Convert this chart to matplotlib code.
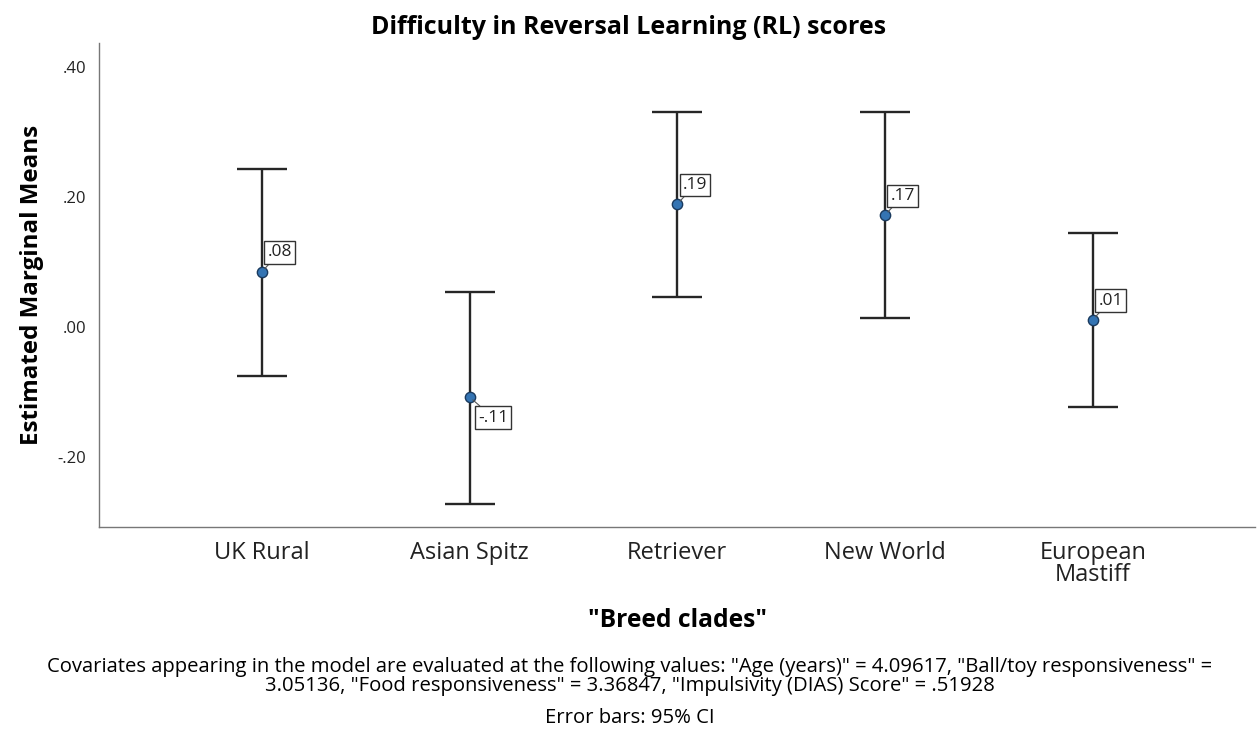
import matplotlib.pyplot as plt
import numpy as np

# estimated marginal means with 95% CI
clades = ["UK Rural", "Asian Spitz", "Retriever", "New World", "European\nMastiff"]
means = [0.085, -0.108, 0.189, 0.172, 0.011]
lower = [-0.075, -0.272, 0.046, 0.014, -0.123]
upper = [0.243, 0.054, 0.331, 0.331, 0.145]
point_labels = [".08", "-.11", ".19", ".17", ".01"]
yticks = [-0.20, 0.00, 0.20, 0.40]
ytick_labels = ["-.20", ".00", ".20", ".40"]

plt.rcParams['font.family'] = ['Open Sans', 'DejaVu Sans']

fig = plt.figure(figsize=(12.59, 7.36), dpi=100)
ax = fig.add_axes([0.0786, 0.284, 0.918, 0.658])

x = np.arange(len(clades))
means = np.array(means)
err = [means - np.array(lower), np.array(upper) - means]

ax.errorbar(x, means, yerr=err, fmt='none', ecolor='#262626', elinewidth=1.7,
            capsize=18, capthick=1.7, zorder=2)
ax.scatter(x, means, s=55, color='#3474b3', edgecolor='#1a3a5e', linewidth=1.0, zorder=3)

for xi, m, lab in zip(x, means, point_labels):
    if m >= 0:
        off = (4, 8)
        va = 'bottom'
    else:
        off = (6, -9)
        va = 'top'
    ax.annotate(lab, (xi, m), xytext=off, textcoords='offset points',
                ha='left', va=va, fontsize=12.5, color='#222222',
                bbox=dict(boxstyle='square,pad=0.18', fc='white', ec='#333333', lw=1.0),
                arrowprops=dict(arrowstyle='-', color='#555555', lw=0.8, shrinkA=0, shrinkB=3),
                zorder=4)

ax.set_xlim(-0.785, 4.78)
ax.set_ylim(-0.3077, 0.437)
ax.set_xticks(x)
ax.set_xticklabels(clades, fontsize=17, linespacing=0.9)
ax.tick_params(axis='x', pad=10)
ax.set_yticks(yticks)
ax.set_yticklabels(ytick_labels, fontsize=12)
ax.tick_params(axis='both', length=0, colors='#222222')
ax.tick_params(axis='y', pad=9)

for side in ['top', 'right']:
    ax.spines[side].set_visible(False)
for side in ['left', 'bottom']:
    ax.spines[side].set_color('#777777')
    ax.spines[side].set_linewidth(1.0)

ax.set_ylabel("Estimated Marginal Means", fontsize=17.4, fontweight='bold', labelpad=10)

fig.text(0.499, 0.963, "Difficulty in Reversal Learning (RL) scores", ha='center', va='center',
         fontsize=18, fontweight='bold')
fig.text(0.538, 0.157, '"Breed clades"', ha='center', va='center', fontsize=17.7, fontweight='bold')
fig.text(0.5, 0.081, 'Covariates appearing in the model are evaluated at the following values: "Age (years)" = 4.09617, '
         '"Ball/toy responsiveness" =\n3.05136, "Food responsiveness" = 3.36847, "Impulsivity (DIAS) Score" = .51928',
         ha='center', va='center', fontsize=14.6, linespacing=0.9)
fig.text(0.5, 0.024, "Error bars: 95% CI", ha='center', va='center', fontsize=14.6)

fig.savefig("out.png", dpi=100)
